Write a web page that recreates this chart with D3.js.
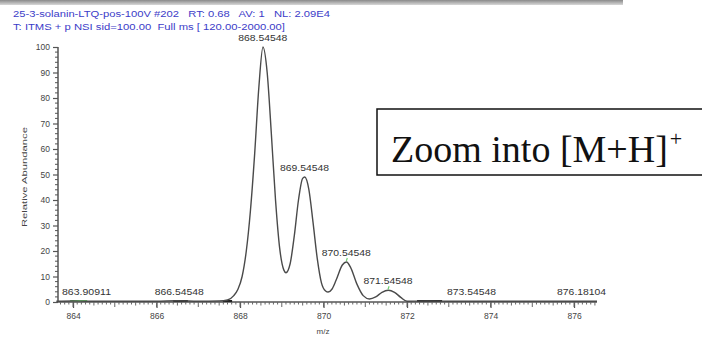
<!DOCTYPE html>
<html><head><meta charset="utf-8">
<script src="https://cdn.jsdelivr.net/npm/d3@7"></script>
<style>
html,body{margin:0;padding:0;background:#fff;overflow:hidden}
svg{display:block}
</style></head>
<body>
<svg id="c" width="702" height="339"></svg>
<script>
// ---- data ----
const headerLines = [
  "25-3-solanin-LTQ-pos-100V #202   RT: 0.68   AV: 1   NL: 2.09E4",
  "T: ITMS + p NSI sid=100.00  Full ms [ 120.00-2000.00]"
];
const spectrumMz = [863.60,864.00,864.30,865.00,866.00,866.50,867.00,867.50,867.70,867.85,867.95,868.05,868.15,868.25,868.35,868.45,868.55,868.65,868.75,868.85,868.95,869.05,869.10,869.20,869.30,869.40,869.50,869.55,869.65,869.75,869.85,869.95,870.05,870.11,870.20,870.30,870.45,870.55,870.65,870.80,870.95,871.10,871.25,871.40,871.55,871.70,871.85,872.00,872.50,873.00,874.00,875.00,876.55];
const spectrumInt = [0.3,0.4,0.3,0.3,0.3,0.5,0.3,0.4,0.8,2.5,5,10,20,36,58,84,100,90,66,40,21,12.5,11.5,15,26,40,48.5,49,44,31,17,7.5,4.3,3.9,5,8.5,14.5,15.7,13.5,7,2.5,1.2,2,3.8,4.6,3.8,1.8,0.3,0.4,0.3,0.3,0.3,0.3];
const peakLabels = ["863.90911","866.54548","868.54548","869.54548","870.54548","871.54548","873.54548","876.18104"];
const peakMz = [863.90911,866.54548,868.54548,869.54548,870.54548,871.54548,873.54548,876.18104];
const peakInt = [0.4,0.5,100,49,15.7,4.6,0.3,0.3];
const greenConnector = [false,false,false,false,true,true,false,false];
const blackSegments = [[866.40,866.75],[867.59,867.81],[872.24,872.84]];
const greenSegments = [[863.93,864.34]];
const xTickValues = [864,866,868,870,872,874,876];
const yTickValues = [0,10,20,30,40,50,60,70,80,90,100];
const xDomain = [863.64, 876.55];
const yDomain = [0, 100];
const noteText = "Zoom into [M+H]";
const noteSup = "+";

// ---- drawing ----
const svg = d3.select("#c");
const x = d3.scaleLinear().domain(xDomain).range([58, 597]);
const y = d3.scaleLinear().domain(yDomain).range([302, 47]);
const sans = "'Liberation Sans', Arial, sans-serif";

// top gray bar
const grad = svg.append("defs").append("linearGradient").attr("id","g").attr("x1",0).attr("x2",0).attr("y1",0).attr("y2",1);
grad.append("stop").attr("offset","0%").attr("stop-color","#8a8a8a");
grad.append("stop").attr("offset","100%").attr("stop-color","#d8d8d8");
svg.append("rect").attr("x",0).attr("y",0).attr("width",623).attr("height",5).attr("fill","url(#g)");

// header
const hdrWidths = [317, 272];
headerLines.forEach((t,i)=>{
  svg.append("text").attr("x",13).attr("y",17+i*12.5)
    .style("white-space","pre")
    .attr("font-family",sans).attr("font-size",8.5).attr("fill","#3c3cc8")
    .attr("textLength",hdrWidths[i]).attr("lengthAdjust","spacingAndGlyphs")
    .text(t);
});

// y axis
const yAxis = d3.axisLeft(y).tickValues(yTickValues).tickSize(5).tickPadding(3);
const gy = svg.append("g").attr("transform","translate(58,0)").call(yAxis);
gy.select(".domain").attr("stroke","#555").attr("stroke-width",1.5).attr("d","M0,"+y(0)+"V"+y(100));
gy.selectAll(".tick line").attr("stroke","#555").attr("stroke-width",1.2);
gy.selectAll(".tick text").attr("font-family",sans).attr("font-size",8.5).attr("fill","#444");
const yMinor = d3.range(0,100.01,2).filter(v=>v%10!==0);
svg.append("g").selectAll("line").data(yMinor).join("line")
  .attr("x1",55).attr("x2",58).attr("y1",d=>y(d)).attr("y2",d=>y(d))
  .attr("stroke","#555").attr("stroke-width",1);

// x axis
const xAxis = d3.axisBottom(x).tickValues(xTickValues).tickSize(6).tickPadding(5).tickFormat(d3.format("d"));
const gx = svg.append("g").attr("transform","translate(0,302)").call(xAxis);
gx.select(".domain").attr("stroke","#555").attr("stroke-width",1.5).attr("d","M58,0H597");
gx.selectAll(".tick line").attr("stroke","#555").attr("stroke-width",1.2);
gx.selectAll(".tick text").attr("font-family",sans).attr("font-size",8.5).attr("fill","#444");
const xMinor = d3.range(Math.ceil(xDomain[0]*10), Math.floor(xDomain[1]*10)+1).map(v=>v/10);
svg.append("g").selectAll("line").data(xMinor).join("line")
  .attr("x1",d=>x(d)).attr("x2",d=>x(d)).attr("y1",302)
  .attr("y2",d=>{const r=Math.round(d*10);return 302+(r%10===0?5:(r%5===0?3.5:2.5));})
  .attr("stroke","#666").attr("stroke-width",1);

// axis titles
svg.append("text").attr("x",323).attr("y",334).attr("text-anchor","middle")
  .attr("font-family",sans).attr("font-size",8).attr("fill","#444").text("m/z");
svg.append("text").attr("transform","translate(27,177) rotate(-90)").attr("text-anchor","middle")
  .attr("font-family",sans).attr("font-size",8).attr("fill","#444")
  .attr("textLength",100).attr("lengthAdjust","spacingAndGlyphs").text("Relative Abundance");

// baseline segments
svg.append("g").selectAll("line").data(blackSegments).join("line")
  .attr("x1",d=>x(d[0])).attr("x2",d=>x(d[1])).attr("y1",y(0.4)).attr("y2",y(0.4))
  .attr("stroke","#222").attr("stroke-width",2);
svg.append("g").selectAll("line").data(greenSegments).join("line")
  .attr("x1",d=>x(d[0])).attr("x2",d=>x(d[1])).attr("y1",y(0.5)).attr("y2",y(0.5))
  .attr("stroke","#6fd36f").attr("stroke-width",1.5);

// spectrum
const pts = spectrumMz.map((m,i)=>[m,spectrumInt[i]]);
const line = d3.line().x(d=>x(d[0])).y(d=>y(d[1])).curve(d3.curveMonotoneX);
svg.append("path").datum(pts).attr("d",line).attr("fill","none")
  .attr("stroke","#4a4a4a").attr("stroke-width",1.4).attr("stroke-linejoin","round");

// peak labels
const lg = svg.append("g");
peakLabels.forEach((t,i)=>{
  let cx = x(peakMz[i]);
  const half = 24.5;
  cx = Math.max(cx, 58 + half + 4);
  const py = y(peakInt[i]);
  if (greenConnector[i]) {
    lg.append("line").attr("x1",x(peakMz[i])).attr("x2",x(peakMz[i])+1)
      .attr("y1",py-1).attr("y2",py-4).attr("stroke","#6fd36f").attr("stroke-width",1.2);
  }
  lg.append("text").attr("x",cx).attr("y",py-6).attr("text-anchor","middle")
    .attr("font-family",sans).attr("font-size",8.5).attr("fill","#333")
    .attr("textLength",49).attr("lengthAdjust","spacingAndGlyphs").text(t);
});

// note box
svg.append("rect").attr("x",377).attr("y",109).attr("width",340).attr("height",66)
  .attr("fill","#fff").attr("stroke","#111").attr("stroke-width",1.5);
const serif = "'Liberation Serif', 'Times New Roman', serif";
const note = svg.append("text").attr("x",391).attr("y",162).attr("font-family",serif)
  .attr("font-size",38).attr("fill","#111");
note.append("tspan").text(noteText);
note.append("tspan").attr("dy",-16).attr("dx",2).attr("font-size",22).text(noteSup);
</script>
</body></html>
